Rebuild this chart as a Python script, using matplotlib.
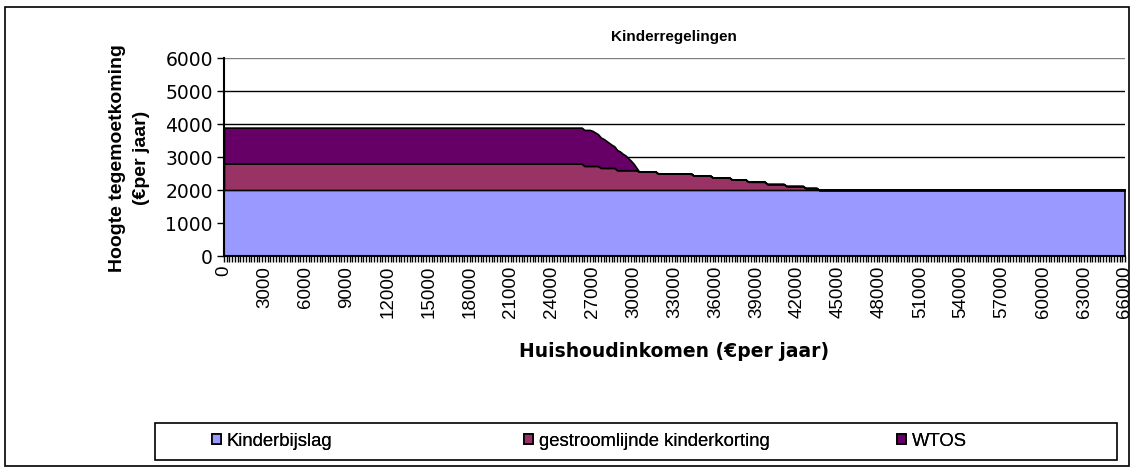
import numpy as np
import matplotlib
matplotlib.use("Agg")
import matplotlib.pyplot as plt
from matplotlib.patches import Rectangle, Patch

plt.rcParams['font.family'] = ['Liberation Sans', 'DejaVu Sans']

# ---- data ----
income = np.arange(0, 66001, 200)            # categories (€ per jaar)

kinderbijslag_level = 2000

# gestroomlijnde kinderkorting: (last income of run, value)
korting_runs_end = [26200, 27400, 28600, 30200, 31600, 34200, 35600, 37000, 38200, 39600, 41000, 42400, 43400, 66000]
korting_runs_val = [800, 730, 670, 600, 560, 500, 440, 380, 320, 250, 180, 120, 60, 0]

# WTOS: flat part then declining values
wtos_flat_end = 26800
wtos_flat_val = 1090
wtos_decline = [1060, 1010, 960, 920, 880, 820, 760, 700, 650, 610, 570, 500, 450, 370, 290, 200, 80, 0]

ytick_vals = [0, 1000, 2000, 3000, 4000, 5000, 6000]
label_step = 3000

series_names = ["Kinderbijslag", "gestroomlijnde kinderkorting", "WTOS"]
colors = ["#9999FF", "#993366", "#660066"]

# ---- build series per category ----
kinderbijslag = np.full(len(income), kinderbijslag_level, dtype=float)
korting = np.zeros(len(income))
start = 0
for end, val in zip(korting_runs_end, korting_runs_val):
    korting[(income >= start) & (income <= end)] = val
    start = end + 1
wtos = np.zeros(len(income))
wtos[income <= wtos_flat_end] = wtos_flat_val
n0 = int(np.searchsorted(income, wtos_flat_end)) + 1
wtos[n0:n0 + len(wtos_decline)] = wtos_decline

# ---- figure ----
W, H = 1133, 469
fig = plt.figure(figsize=(W / 100, H / 100), dpi=100)
fig.patch.set_facecolor("white")

# outer frame
fig.patches.append(Rectangle((5 / W, 1 - 466 / H), (1129 - 5) / W, (466 - 7) / H,
                             transform=fig.transFigure, fill=False, ec="black", lw=1.2))

L, R, T, B = 224, 1125, 58, 256
ax = fig.add_axes([L / W, 1 - B / H, (R - L) / W, (B - T) / H])
x = np.arange(len(income))
ax.stackplot(x, kinderbijslag, korting, wtos, colors=colors,
             edgecolor="black", linewidth=1.2)

ax.set_xlim(0, len(income) - 1)
ax.set_ylim(0, 6000)
ax.set_yticks(ytick_vals)
ax.set_yticklabels([str(v) for v in ytick_vals], fontsize=13.5, family="DejaVu Sans")
for v in ytick_vals[1:]:
    ax.axhline(v, color="black" if v < 6000 else "#808080", lw=1.0, zorder=0)

ax.set_xticks(x)
lab_every = label_step // 200
ax.set_xticklabels([str(v) if i % lab_every == 0 else "" for i, v in enumerate(income)],
                   rotation=90, fontsize=13.5)
ax.tick_params(axis="x", length=4, width=1.0, direction="out", pad=3)
ax.tick_params(axis="y", length=5, width=1.0, direction="out", pad=3)

for s in ["top", "right"]:
    ax.spines[s].set_visible(False)
ax.spines["left"].set_linewidth(1.5)
ax.spines["bottom"].set_linewidth(1.5)
ax.set_facecolor("white")

fig.text(674 / W, 1 - 37 / H, "Kinderregelingen", ha="center", va="center",
         fontsize=11, fontweight="bold")
fig.text(118 / W, 1 - 158 / H, "Hoogte tegemoetkoming", ha="center", va="center",
         rotation=90, fontsize=14, fontweight="bold")
fig.text(141 / W, 1 - 158 / H, "(€per jaar)", ha="center", va="center",
         rotation=90, fontsize=14, fontweight="bold")
fig.text(674 / W, 1 - 351 / H, "Huishoudinkomen (€per jaar)", ha="center", va="center",
         fontsize=13.5, fontweight="bold", family="DejaVu Sans")

# legend
lx0, ly0, lx1, ly1 = 155, 423, 1117, 460
fig.patches.append(Rectangle((lx0 / W, 1 - ly1 / H), (lx1 - lx0) / W, (ly1 - ly0) / H,
                             transform=fig.transFigure, fill=False, ec="black", lw=1.2))
handles = [Patch(facecolor=c, edgecolor="black", lw=1.2) for c in colors]
leg_x = [212, 524, 897]
for hx, h, name in zip(leg_x, handles, series_names):
    lg = fig.legend([h], [name], loc="center left",
                    bbox_to_anchor=(hx / W, 1 - 441 / H), frameon=False,
                    fontsize=13.3, handlelength=0.5, handleheight=0.5,
                    handletextpad=0.3, borderpad=0, borderaxespad=0)
    fig.add_artist(lg)

fig.savefig("out.png", dpi=100, facecolor="white")
